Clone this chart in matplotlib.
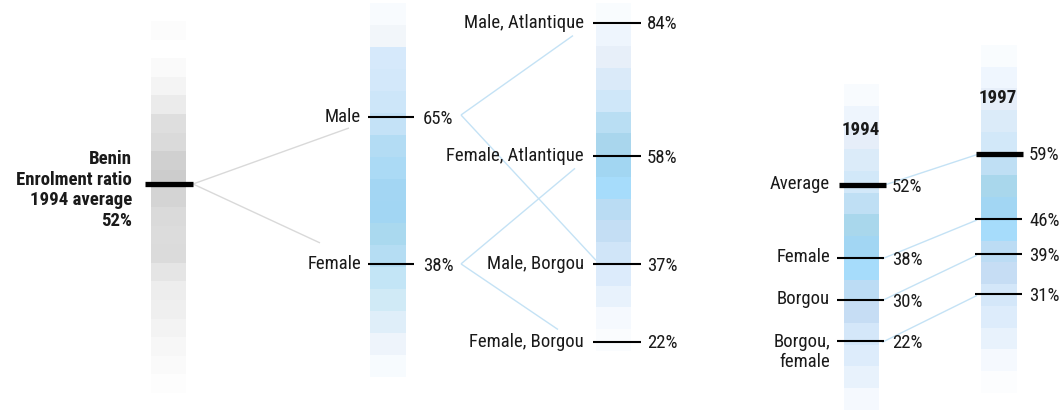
import numpy as np
import matplotlib
matplotlib.use("Agg")
import matplotlib.pyplot as plt
from matplotlib import font_manager as fm
from matplotlib.colors import to_rgb

# ---------------- data ----------------
benin_label = "Benin\nEnrolment ratio\n1994 average\n52%"
benin_avg = 52

gender_labels = ["Male", "Female"]
gender_values = [65, 38]

sub_labels = ["Male, Atlantique", "Female, Atlantique", "Male, Borgou", "Female, Borgou"]
sub_values = [84, 58, 37, 22]
# which sub-group belongs to which gender
gender_links = {0: [0, 2], 1: [1, 3]}

years = ["1994", "1997"]
cmp_labels = ["Average", "Female", "Borgou", "Borgou,\nfemale"]
values_1994 = [52, 38, 30, 22]
values_1997 = [59, 46, 39, 31]

# strip shades (top to bottom)
strip_benin = ["#fcfcfc", "#ffffff", "#fafafa", "#f4f4f4", "#ebebeb", "#dedede", "#dadada",
               "#d0d0d0", "#cccccc", "#d4d4d4", "#dadada", "#dcdcdc", "#dbdbdb", "#e5e5e5",
               "#ededed", "#efefef", "#f3f3f3", "#f7f7f7", "#fafafa", "#fdfdfd"]
strip_gender = ["#f8fbfe", "#f2f6fa", "#d6e9fb", "#d3e8fa", "#cde6f9", "#c4e2f7", "#b3dcf4",
                "#abdaf5", "#a3d6f3", "#a2d6f3", "#aad9ef", "#b5ddf3", "#c3e5f6", "#d0eaf6",
                "#dfeef9", "#eef4fb", "#f7fbfe"]
strip_sub = ["#f9fcfe", "#eef5fd", "#e7eff9", "#daeaf9", "#cfe7f9", "#b9def3", "#a9d6ed",
             "#a2d6f2", "#a6dcfb", "#badcf3", "#c4def4", "#d0e5f8", "#dcebfb", "#e8f2fc",
             "#f5f9fe", "#fafcfe"]
strip_1994 = ["#f8fbfe", "#eef5fd", "#e6eef9", "#dbebf9", "#d2e8f9", "#bfdff4", "#a9d7ec",
              "#a2d6f3", "#a6dcfb", "#bcdcf4", "#c6ddf4", "#d4e7f9", "#ddecfb", "#e8f2fc",
              "#f5f9fe"]
strip_1997 = ["#f9fcfe", "#eff6fe", "#e6eef9", "#dbebf9", "#d2e8f9", "#bfdff4", "#a9d7ec",
              "#a2d6f3", "#a6dcfb", "#bcdcf4", "#c6ddf4", "#d4e7f9", "#ddecfb", "#e8f2fc",
              "#f5f9fe", "#fcfdfe"]

# ---------------- fonts ----------------
available = {f.name for f in fm.fontManager.ttflist}
family = [f for f in ["Liberation Sans Narrow", "Roboto Condensed", "Open Sans Condensed",
                      "Roboto", "DejaVu Sans"] if f in available]
plt.rcParams["font.family"] = family
FS = 13.5
TXT = "#1a1a1a"

# ---------------- figure / layout ----------------
W, H = 1062, 416
fig = plt.figure(figsize=(W / 100, H / 100), dpi=100)
bg = fig.add_axes([0, 0, 1, 1])
bg.set_xlim(0, W)
bg.set_ylim(H, 0)
bg.axis("off")

# value axes: each column has its own percentage scale (top %, bottom %)
def value_axes(top_pct, bottom_pct):
    ax = fig.add_axes([0, 0, 1, 1])
    ax.set_xlim(0, W)
    ax.set_ylim(bottom_pct, top_pct)
    ax.patch.set_alpha(0)
    ax.axis("off")
    return ax

# strips: (colors, x_left, width, top_px, segment_height_px)
strips = [
    (strip_benin, 151, 35, 21, 18.6),
    (strip_gender, 370, 36, 3, 22.0),
    (strip_sub, 596, 35, 3, 21.75),
    (strip_1994, 844, 35, 84, 21.73),
    (strip_1997, 981, 36, 46, 21.7),
]
for cols, x0, w, top, sh in strips:
    img = np.array([[to_rgb(c)] for c in cols])
    bot = top + sh * len(cols)
    bg.imshow(img, extent=[x0, x0 + w, bot, top], aspect="auto",
              interpolation="nearest", zorder=1)
bg.set_xlim(0, W)
bg.set_ylim(H, 0)

ax1 = value_axes(87.38, 7.39)
ax2 = value_axes(86.50, 10.05)
ax3 = value_axes(88.39, 7.52)
ax4 = value_axes(87.43, 7.70)
ax5 = value_axes(89.53, 6.84)

def px(ax, x, v, dy=0.0):
    """map (x, value) of a column axes to background pixel coords"""
    d = ax.transData.transform((x, v))
    xb, yb = bg.transData.inverted().transform(d)
    return xb, yb + dy

def connect(p, q, color, lw=1.0):
    bg.plot([p[0], q[0]], [p[1], q[1]], color=color, lw=lw, zorder=0.5,
            solid_capstyle="butt")

GRAY = "#d9d9d9"
BLUE = "#c4e2f5"
THIN = 1.5
THICK = 3.8

# ---------- column 1: Benin average ----------
ax1.hlines(benin_avg, 145, 193, color="#000000", lw=THICK, zorder=3)
ax1.text(132, benin_avg, benin_label, ha="right", va="center", fontsize=FS,
         fontweight="bold", color=TXT, linespacing=1.18,
         transform=ax1.transData)
# shift title slightly down (its block centre sits a little under the marker)
ax1.texts[-1].set_y(benin_avg - 1.2)

# ---------- column 2: gender ----------
for lab, v in zip(gender_labels, gender_values):
    ax2.hlines(v, 368, 414, color="#000000", lw=THIN, zorder=3)
    ax2.text(361, v, lab, ha="right", va="center", fontsize=FS, color=TXT)
    ax2.text(423, v - 0.3, f"{v}%", ha="left", va="center", fontsize=FS, color=TXT)

connect(px(ax1, 193, benin_avg), px(ax2, 349, gender_values[0], 11), GRAY)
connect(px(ax1, 193, benin_avg), px(ax2, 320, gender_values[1], -21), GRAY)

# ---------- column 3: gender x region ----------
for lab, v in zip(sub_labels, sub_values):
    ax3.hlines(v, 593, 641, color="#000000", lw=THIN, zorder=3)
    ax3.text(584, v, lab, ha="right", va="center", fontsize=FS, color=TXT)
    ax3.text(647, v - 0.3, f"{v}%", ha="left", va="center", fontsize=FS, color=TXT)

ends = {0: (573, 13), 1: (575, 12), 2: (596, -4), 3: (558, -12)}
for gi, subs in gender_links.items():
    start = px(ax2, 461, gender_values[gi], -2 if gi == 0 else 0)
    for si in subs:
        ex, edy = ends[si]
        connect(start, px(ax3, ex, sub_values[si], edy), BLUE)

# ---------- column 4/5: 1994 vs 1997 ----------
for i, (lab, v) in enumerate(zip(cmp_labels, values_1994)):
    lw = THICK if i == 0 else THIN
    x0, x1 = (839, 886) if i == 0 else (837, 884)
    ax4.hlines(v, x0, x1, color="#000000", lw=lw, zorder=3)
    dy = -2.0 if "\n" in lab else 0.2
    ax4.text(830, v + dy, lab, ha="right", va="center", fontsize=FS, color=TXT,
             linespacing=1.1)
    ax4.text(892, v - 0.4, f"{v}%", ha="left", va="center", fontsize=FS, color=TXT)

for i, v in enumerate(values_1997):
    lw = THICK if i == 0 else THIN
    x0, x1 = (976, 1023) if i == 0 else (975, 1022)
    ax5.hlines(v, x0, x1, color="#000000", lw=lw, zorder=3)
    ax5.text(1029, v - 0.3, f"{v}%", ha="left", va="center", fontsize=FS, color=TXT)

for v4, v5 in zip(values_1994, values_1997):
    connect(px(ax4, 882, v4, 1), px(ax5, 977, v5, 1), BLUE)

bg.text(861, 130, years[0], ha="center", va="center", fontsize=FS,
        fontweight="bold", color=TXT, zorder=4)
bg.text(998, 98, years[1], ha="center", va="center", fontsize=FS,
        fontweight="bold", color=TXT, zorder=4)

fig.savefig("out.png", dpi=100, facecolor="white")
